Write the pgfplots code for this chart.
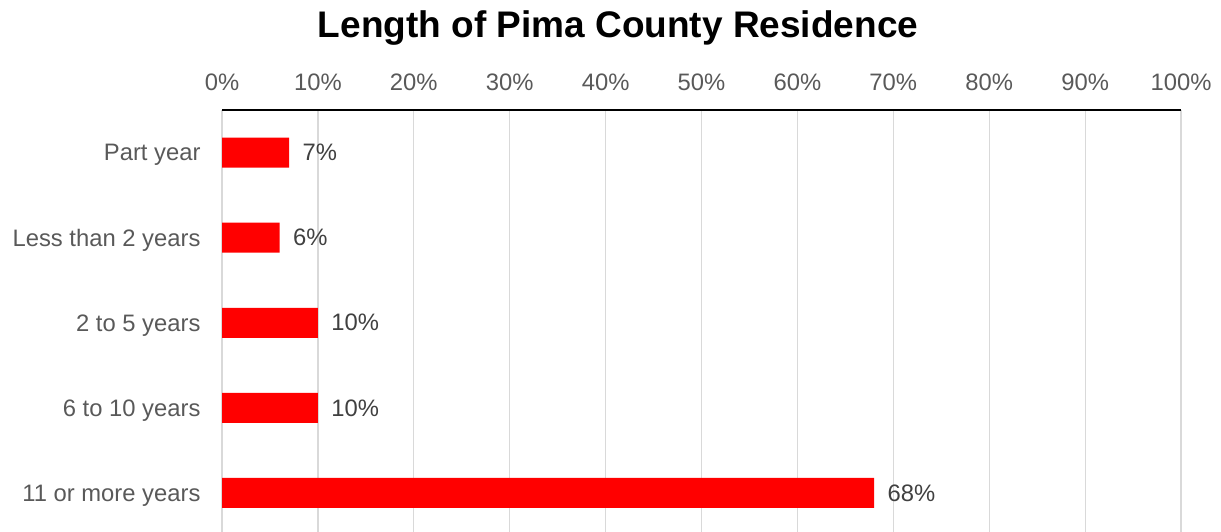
\documentclass[border=0pt]{standalone}
\usepackage{fontspec}
\setmainfont{Liberation Sans}
\usepackage{pgfplots}
\pgfplotsset{compat=1.18}
\definecolor{txt}{HTML}{595959}
\definecolor{val}{HTML}{404040}
\definecolor{grd}{HTML}{D9D9D9}
\begin{document}
\begin{tikzpicture}[x=1pt,y=1pt]
\useasboundingbox (0,0) rectangle (1221,531);
\node[font=\fontsize{37}{40}\selectfont\bfseries, anchor=center] at (618,503) {Length of Pima County Residence};
\begin{axis}[
  at={(222pt,-4.5pt)}, anchor=south west,
  scale only axis, width=959pt, height=425.5pt,
  xbar, bar width=30pt,
  xmin=0, xmax=100, ymin=-0.5, ymax=4.5,
  axis x line*=top, axis y line*=left,
  x axis line style={-, black, line width=1.3pt},
  y axis line style={draw=none},
  xtick={0,10,...,100},
  ytick={0,1,2,3,4},
  yticklabels={11 or more years,6 to 10 years,2 to 5 years,Less than 2 years,Part year},
  xmajorgrids, major grid style={grd, line width=1.2pt},
  major tick length=0pt,
  /pgf/number format/assume math mode=true,
  xticklabel={\pgfmathprintnumber{\tick}\%},
  ticklabel style={font=\fontsize{23.8}{26}\selectfont, text=txt},
  xticklabel style={yshift=16pt},
  yticklabel style={xshift=-18pt, yshift=-2.5pt},
  nodes near coords={\pgfmathprintnumber{\pgfplotspointmeta}\%},
  nodes near coords style={font=\fontsize{23.8}{26}\selectfont, text=val, anchor=west, xshift=10pt},
  clip=false,
]
\addplot[fill=red, draw=none] coordinates {(68,0) (10,1) (10,2) (6,3) (7,4)};
\end{axis}
\end{tikzpicture}
\end{document}
